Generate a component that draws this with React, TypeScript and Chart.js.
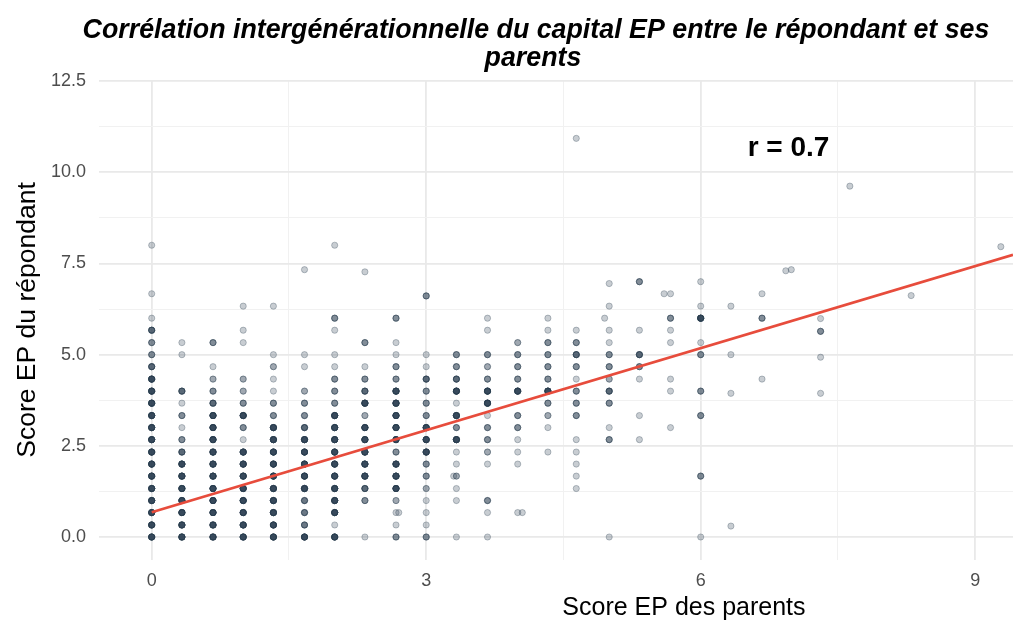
import { useEffect, useRef } from "react";
import { Chart, registerables } from "chart.js";

Chart.register(...registerables);

const TITLE_LINES = [
  "Corrélation intergénérationnelle du capital EP entre le répondant et ses",
  "parents",
];
const X_TITLE = "Score EP des parents";
const Y_TITLE = "Score EP du répondant";

const X_MAJOR = [0, 3, 6, 9];
const X_MINOR = [1.5, 4.5, 7.5];
const Y_MAJOR = [0, 2.5, 5, 7.5, 10, 12.5];
const Y_MINOR = [1.25, 3.75, 6.25, 8.75, 11.25];
const X_RANGE = [-0.576, 9.413];
const Y_RANGE = [-0.63, 12.53];

const REG_INTERCEPT = 0.68;
const REG_SLOPE = 0.75;
const R_LABEL = "r = 0.7";
const R_POS = [6.96, 10.66];

// Each column: parent score, then [respondent score, number of respondents]
const COL_0: [number, number][] = [[8, 1], [6.67, 1], [6, 1], [5.67, 5], [5.33, 3], [5, 3], [4.67, 5], [4.33, 9], [4, 9], [3.67, 9], [3.33, 9], [3, 9], [2.67, 9], [2.33, 9], [2, 9], [1.67, 9], [1.33, 9], [1, 9], [0.67, 9], [0.33, 9], [0, 9]];
const COL_033: [number, number][] = [[5.33, 1], [5, 1], [4, 5], [3.67, 1], [3.33, 3], [3, 1], [2.67, 3], [2.33, 5], [2, 9], [1.67, 9], [1.33, 9], [1, 9], [0.67, 9], [0.33, 9], [0, 9]];
const COL_067: [number, number][] = [[5.33, 3], [4.67, 1], [4.33, 2], [4, 3], [3.67, 5], [3.33, 9], [3, 9], [2.67, 9], [2.33, 9], [2, 9], [1.67, 9], [1.33, 9], [1, 9], [0.67, 9], [0.33, 9], [0, 9]];
const COL_1: [number, number][] = [[6.33, 1], [5.67, 1], [5.33, 1], [4.33, 2], [4, 2], [3.67, 3], [3.33, 9], [3, 3], [2.67, 1], [2.33, 9], [2, 9], [1.67, 9], [1.33, 9], [1, 9], [0.67, 9], [0.33, 9], [0, 9]];
const COL_133: [number, number][] = [[6.33, 1], [5, 1], [4.67, 2], [4.33, 1], [4, 1], [3.67, 3], [3.33, 3], [3, 9], [2.67, 9], [2.33, 9], [2, 9], [1.67, 9], [1.33, 9], [1, 9], [0.67, 9], [0.33, 9], [0, 9]];
const COL_167: [number, number][] = [[7.33, 1], [5, 1], [4.67, 1], [4, 2], [3.67, 3], [3.33, 3], [3, 5], [2.67, 9], [2.33, 9], [2, 9], [1.67, 9], [1.33, 9], [1, 4], [0.67, 4], [0.33, 4], [0, 9]];
const COL_2: [number, number][] = [[8, 1], [6, 3], [5.67, 1], [5, 1], [4.67, 1], [4.33, 3], [4, 3], [3.67, 3], [3.33, 9], [3, 9], [2.67, 9], [2.33, 9], [2, 9], [1.67, 9], [1.33, 9], [1, 9], [0.67, 9], [0.33, 1], [0, 9]];
const COL_233: [number, number][] = [[7.27, 1], [5.33, 3], [4.67, 1], [4.33, 3], [4, 5], [3.67, 9], [3.33, 2], [3, 9], [2.67, 9], [2.33, 9], [2, 9], [1.67, 9], [1.33, 5], [1, 3], [0, 1]];
const COL_267: [number, number][] = [[6, 3], [5.33, 1], [5, 1], [4.67, 3], [4.33, 3], [4, 9], [3.67, 9], [3.33, 9], [3, 9], [2.67, 9], [2.33, 3], [2, 9], [1.67, 9], [1.33, 9], [1, 2], [0.67, 1], [0.33, 1], [0, 3]];
const COL_3: [number, number][] = [[6.61, 3], [5, 1], [4.67, 1], [4.33, 5], [4, 3], [3.67, 3], [3.33, 3], [3, 9], [2.67, 9], [2.33, 9], [2, 3], [1.67, 3], [1.33, 2], [1, 1], [0.67, 1], [0.33, 1], [0, 3]];
const COL_333: [number, number][] = [[5, 3], [4.67, 3], [4.33, 5], [4, 9], [3.67, 1], [3.33, 9], [3, 3], [2.67, 9], [2.33, 1], [2, 1], [1.67, 2], [1.33, 1], [1, 1], [0, 1]];
const COL_367: [number, number][] = [[6, 1], [5.67, 1], [5, 3], [4.67, 2], [4.33, 3], [4, 9], [3.67, 9], [3.33, 1], [3, 3], [2.67, 3], [2.33, 2], [2, 1], [1, 3], [0.67, 1], [0, 1]];
const COL_4: [number, number][] = [[5.33, 2], [5, 3], [4.67, 3], [4.33, 3], [4, 9], [3.33, 3], [3, 3], [2.67, 1], [2.33, 1], [2, 1], [0.67, 1]];
const COL_433: [number, number][] = [[6, 1], [5.67, 1], [5.33, 3], [5, 3], [4.67, 3], [4.33, 3], [4, 9], [3.67, 3], [3.33, 2], [3, 1], [2.33, 1]];
const COL_464: [number, number][] = [[10.93, 1], [5.67, 1], [5.33, 3], [5, 5], [4.67, 3], [4.33, 1], [4, 3], [3.67, 3], [3.33, 3], [2.67, 1], [2.33, 1], [2, 1], [1.67, 1], [1.33, 1]];
const COL_5: [number, number][] = [[6.95, 1], [6.33, 1], [5.67, 1], [5.33, 1], [5, 3], [4.67, 3], [4.33, 2], [4, 5], [3.67, 3], [3, 1], [2.67, 3], [0, 1]];
const COL_533: [number, number][] = [[7, 3], [5.67, 1], [5, 5], [4.67, 3], [4.33, 1], [3.33, 1], [2.67, 1]];
const COL_567: [number, number][] = [[6.67, 1], [6, 3], [5.67, 1], [5.33, 1], [4.33, 1], [4, 1], [3, 1]];
const COL_6: [number, number][] = [[7, 1], [6.33, 1], [6, 9], [5.33, 1], [5, 3], [4, 3], [3.33, 3], [1.67, 3], [0, 1]];
const COL_633: [number, number][] = [[6.33, 1], [5, 1], [3.94, 1], [0.3, 1]];
const COL_667: [number, number][] = [[6.67, 1], [6, 3], [4.33, 1]];
const COL_731: [number, number][] = [[5.99, 1], [5.64, 3], [4.93, 1], [3.94, 1]];

const PARENT_SCORES = [0, 0.33, 0.67, 1, 1.33, 1.67, 2, 2.33, 2.67, 3, 3.33, 3.67, 4, 4.33, 4.64, 5, 5.33, 5.67, 6, 6.33, 6.67, 7.31];
const COLUMNS = [COL_0, COL_033, COL_067, COL_1, COL_133, COL_167, COL_2, COL_233, COL_267, COL_3, COL_333, COL_367, COL_4, COL_433, COL_464, COL_5, COL_533, COL_567, COL_6, COL_633, COL_667, COL_731];

// Scattered single respondents: [parent score, respondent score]
const SINGLES: [number, number][] = [[2.7, 0.67], [4.05, 0.67], [3.3, 1.67], [4.95, 6], [5.6, 6.67], [6.93, 7.3], [6.99, 7.33], [7.63, 9.62], [8.3, 6.62], [9.28, 7.96]];

const POINT_FILL = "rgba(44,62,80,0.26)";
const POINT_EDGE = "rgba(44,62,80,0.3)";
const LINE_COLOR = "#e74c3c";
const FONT = "'Liberation Sans', Arial, sans-serif";

const isIn = (list: number[], v: number) => list.some((m) => Math.abs(m - v) < 1e-9);

export default function App() {
  const ref = useRef<HTMLCanvasElement | null>(null);

  useEffect(() => {
    document.body.style.margin = "0";
    const canvas = ref.current;
    if (!canvas) return;

    const points: { x: number; y: number }[] = [];
    COLUMNS.forEach((cells, i) => {
      const x = PARENT_SCORES[i];
      cells.forEach(([y, n]) => {
        for (let k = 0; k < n; k++) points.push({ x, y });
      });
    });
    SINGLES.forEach(([x, y]) => points.push({ x, y }));

    const line = [0, X_RANGE[1]].map((x) => ({ x, y: REG_INTERCEPT + REG_SLOPE * x }));

    const textPlugin = {
      id: "textPlugin",
      afterDraw(chart: any) {
        const { ctx, chartArea, scales } = chart;
        ctx.save();
        ctx.textAlign = "center";
        ctx.textBaseline = "middle";
        ctx.fillStyle = "#000000";
        ctx.font = `italic bold 26.8px ${FONT}`;
        ctx.fillText(TITLE_LINES[0], 536, 31);
        ctx.fillText(TITLE_LINES[1], 533, 59);
        ctx.font = `25px ${FONT}`;
        ctx.fillText(X_TITLE, chartArea.left + (chartArea.right - chartArea.left) * 0.64, chartArea.bottom + 48);
        ctx.font = `bold 28px ${FONT}`;
        ctx.fillText(R_LABEL, scales.x.getPixelForValue(R_POS[0]), scales.y.getPixelForValue(R_POS[1]));
        ctx.restore();
      },
    };

    const chart = new Chart(canvas, {
      type: "scatter",
      data: {
        datasets: [
          {
            type: "scatter",
            data: line,
            showLine: true,
            borderColor: LINE_COLOR,
            borderWidth: 2.8,
            pointRadius: 0,
            order: 0,
          } as any,
          {
            data: points,
            backgroundColor: POINT_FILL,
            borderColor: POINT_EDGE,
            borderWidth: 1,
            pointRadius: 3.1,
            order: 1,
          },
        ],
      },
      options: {
        animation: false,
        responsive: false,
        events: [],
        layout: { padding: { top: 80, left: 0, right: 0, bottom: 0 } },
        plugins: { legend: { display: false }, tooltip: { enabled: false }, title: { display: false } },
        scales: {
          x: {
            type: "linear",
            min: X_RANGE[0],
            max: X_RANGE[1],
            afterBuildTicks: (s: any) => {
              s.ticks = [...X_MAJOR, ...X_MINOR].sort((a, b) => a - b).map((value) => ({ value }));
            },
            afterFit: (s: any) => {
              s.height = 63;
            },
            border: { display: false },
            grid: {
              drawTicks: false,
              color: (c: any) => (isIn(X_MAJOR, c.tick?.value) ? "#e9e9e9" : "#f1f1f1"),
              lineWidth: (c: any) => (isIn(X_MAJOR, c.tick?.value) ? 1.8 : 1),
            },
            ticks: {
              autoSkip: false,
              maxRotation: 0,
              padding: 10,
              color: "#4d4d4d",
              font: { family: FONT, size: 18 },
              callback: (v: any) => (isIn(X_MAJOR, Number(v)) ? String(v) : ""),
            },
          },
          y: {
            type: "linear",
            min: Y_RANGE[0],
            max: Y_RANGE[1],
            afterBuildTicks: (s: any) => {
              s.ticks = [...Y_MAJOR, ...Y_MINOR].sort((a, b) => a - b).map((value) => ({ value }));
            },
            afterFit: (s: any) => {
              s.width = 99;
            },
            border: { display: false },
            grid: {
              drawTicks: false,
              color: (c: any) => (isIn(Y_MAJOR, c.tick?.value) ? "#e9e9e9" : "#f1f1f1"),
              lineWidth: (c: any) => (isIn(Y_MAJOR, c.tick?.value) ? 1.8 : 1),
            },
            ticks: {
              autoSkip: false,
              padding: 13,
              color: "#4d4d4d",
              font: { family: FONT, size: 18 },
              callback: (v: any) => (isIn(Y_MAJOR, Number(v)) ? Number(v).toFixed(1) : ""),
            },
            title: {
              display: true,
              text: Y_TITLE,
              color: "#000000",
              font: { family: FONT, size: 26.5 },
              padding: { top: 12, bottom: 0 },
            },
          },
        },
      },
      plugins: [textPlugin],
    });

    return () => chart.destroy();
  }, []);

  return <canvas ref={ref} width={1018} height={623} style={{ display: "block" }} />;
}
